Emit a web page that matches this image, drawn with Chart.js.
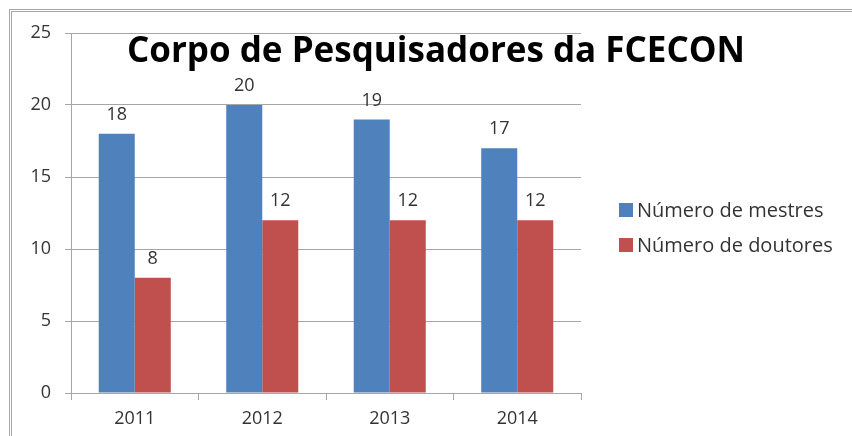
<!DOCTYPE html>
<html>
<head>
<meta charset="utf-8">
<script src="https://cdn.jsdelivr.net/npm/chart.js@4/dist/chart.umd.min.js"></script>
<style>
  html, body { margin: 0; padding: 0; background: #fff; }
  #wrap { width: 852px; height: 436px; }
</style>
</head>
<body>
<div id="wrap"><canvas id="myChart" width="852" height="436"></canvas></div>
<script>
var years = ['2011', '2012', '2013', '2014'];
var mestres = [18, 20, 19, 17];
var doutores = [8, 12, 12, 12];
var seriesNames = ['Número de mestres', 'Número de doutores'];
var seriesColors = ['#4F81BD', '#C0504D'];
var yTicks = [0, 5, 10, 15, 20, 25];
var title = 'Corpo de Pesquisadores da FCECON';

var fontFam = '"Open Sans", "Noto Sans", sans-serif';

// frame, title, value labels and legend
var extras = {
  id: 'extras',
  beforeDraw: function (chart) {
    var c = chart.ctx;
    c.save();
    c.strokeStyle = '#a6a6a6';
    c.lineWidth = 1;
    c.strokeRect(9.5, 9.5, 900, 500);
    c.strokeRect(11.5, 11.5, 900, 500);
    c.restore();
  },
  afterDatasetsDraw: function (chart) {
    var c = chart.ctx;
    c.save();
    // value labels
    c.font = '18px ' + fontFam;
    c.fillStyle = '#333';
    c.textAlign = 'center';
    c.textBaseline = 'middle';
    chart.data.datasets.forEach(function (ds, i) {
      chart.getDatasetMeta(i).data.forEach(function (bar, j) {
        c.fillText(String(ds.data[j]), bar.x, bar.y - 19);
      });
    });
    // title
    c.font = 'bold 35px ' + fontFam;
    c.fillStyle = '#000';
    c.textAlign = 'center';
    c.textBaseline = 'alphabetic';
    c.fillText(title, 436, 62, 628);
    // legend
    c.font = '20px ' + fontFam;
    c.textAlign = 'left';
    c.textBaseline = 'middle';
    for (var k = 0; k < seriesNames.length; k++) {
      var y = 210 + k * 35;
      c.fillStyle = seriesColors[k];
      c.fillRect(619, y - 7, 14, 14);
      c.fillStyle = '#333';
      c.fillText(seriesNames[k], 637, y + 1, 200);
    }
    c.restore();
  }
};

var config = {
  type: 'bar',
  data: {
    labels: years,
    datasets: [
      { label: seriesNames[0], data: mestres, backgroundColor: seriesColors[0] },
      { label: seriesNames[1], data: doutores, backgroundColor: seriesColors[1] }
    ]
  },
  options: {
    responsive: false,
    animation: false,
    layout: { padding: { top: 33, right: 271, left: 0, bottom: 0 } },
    plugins: { legend: { display: false }, title: { display: false }, tooltip: { enabled: false } },
    datasets: { bar: { categoryPercentage: 0.565, barPercentage: 1.0 } },
    scales: {
      x: {
        afterFit: function (s) { s.height = 43; },
        grid: { drawOnChartArea: false, drawTicks: true, tickLength: 7, offset: true, color: '#a6a6a6' },
        border: { color: '#a6a6a6' },
        ticks: { color: '#333', font: { size: 18, family: fontFam }, padding: 8 }
      },
      y: {
        min: 0, max: 25,
        afterFit: function (s) { s.width = 71; },
        afterBuildTicks: function (s) { s.ticks = yTicks.map(function (v) { return { value: v }; }); },
        grid: { color: '#a6a6a6', tickLength: 6 },
        border: { color: '#a6a6a6' },
        ticks: { color: '#333', font: { size: 18, family: fontFam }, padding: 14 }
      }
    }
  },
  plugins: [extras]
};

var myChart = new Chart(document.getElementById('myChart').getContext('2d'), config);
</script>
</body>
</html>
